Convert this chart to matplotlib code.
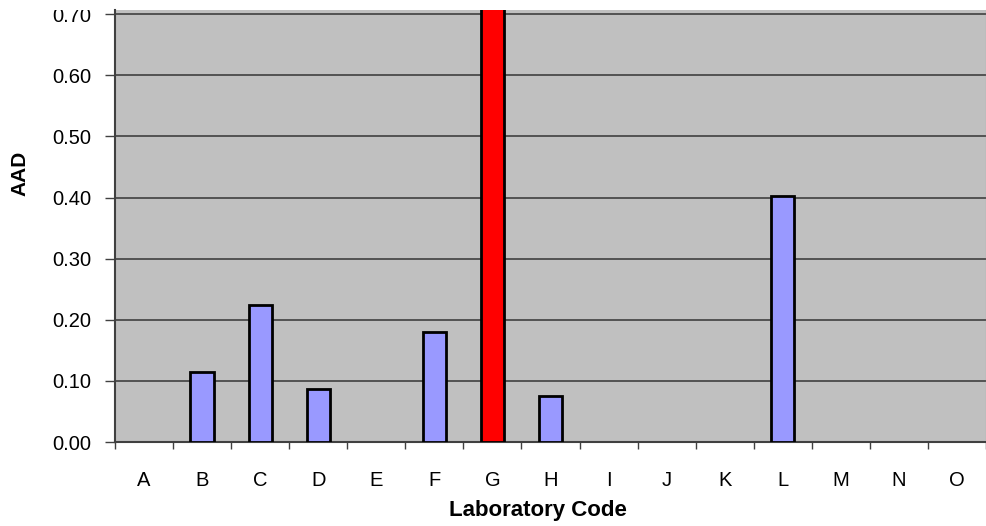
import matplotlib
matplotlib.use("Agg")
import matplotlib.pyplot as plt
from matplotlib.transforms import Bbox, TransformedBbox
import numpy as np

labs = list("ABCDEFGHIJKLMNO")
aad = [0.0, 0.115, 0.224, 0.086, 0.0, 0.18, 0.95, 0.076, 0.0, 0.0, 0.0, 0.402, 0.0, 0.0, 0.0]
yticks = [0.0, 0.1, 0.2, 0.3, 0.4, 0.5, 0.6, 0.7]

# G is the flagged lab (red), the rest default blue
bar_colors = ["#FF0000" if l == "G" else "#9999FF" for l in labs]
edge_w = [2 if v > 0 else 0 for v in aad]

plt.rcParams["font.family"] = ["Liberation Sans", "DejaVu Sans"]

fig = plt.figure(figsize=(9.87, 5.26), dpi=100)
ax = fig.add_axes([115 / 987, 84 / 526, 871 / 987, 432 / 526])
ax.set_facecolor("#C0C0C0")

x = np.arange(len(labs))
ax.bar(x, aad, width=0.4, color=bar_colors, edgecolor="black", linewidth=edge_w, zorder=3)

ax.set_xlim(-0.5, 14.5)
ax.set_ylim(0, 0.707)
ax.set_yticks(yticks)
ax.set_yticklabels([f"{v:.2f}" for v in yticks], fontsize=14.5)
ax.yaxis.grid(True, color="#404040", linewidth=1.2, zorder=1)
ax.set_axisbelow(True)

ax.set_xticks(x)
ax.set_xticklabels(labs, fontsize=14.5)
ax.set_xticks(np.arange(-0.5, 15, 1), minor=True)
ax.tick_params(axis="x", which="major", length=0, pad=21)
ax.tick_params(axis="x", which="minor", length=5, width=1, color="#404040")
ax.tick_params(axis="y", length=7, width=1, color="#404040", pad=10)

ax.spines["top"].set_visible(False)
ax.spines["left"].set_color("#404040")
ax.spines["bottom"].set_color("#404040")
ax.spines["right"].set_color("#909090")
for s in ["left", "bottom"]:
    ax.spines[s].set_linewidth(1.5)

# source image is cropped just above the plot, cutting the 0.70 label
clip = TransformedBbox(Bbox([[0, 0], [1, 516 / 526]]), fig.transFigure)
for lbl in ax.get_yticklabels():
    lbl.set_clip_on(True)
    lbl.set_clip_box(clip)

fig.text(20 / 987, 1 - 173.5 / 526, "AAD", rotation=90, ha="center", va="center",
         fontsize=15, fontweight="bold")
fig.text(537.5 / 987, 1 - 510.5 / 526, "Laboratory Code", ha="center", va="center",
         fontsize=16, fontweight="bold")

fig.savefig("out.png", dpi=100)
